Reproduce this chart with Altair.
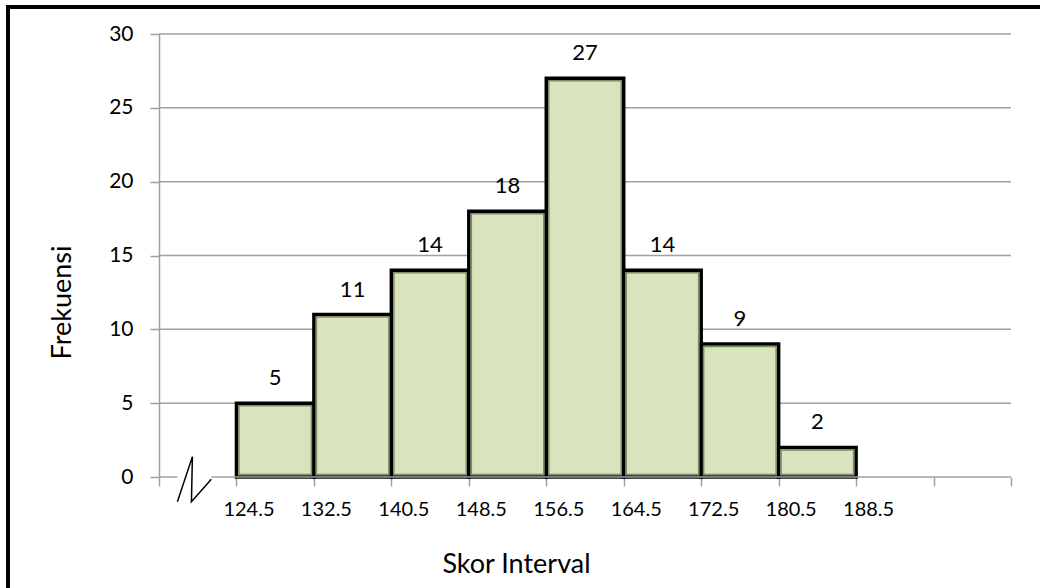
import altair as alt
import pandas as pd

# Class intervals (boundaries) and frequencies
lower = [124.5, 132.5, 140.5, 148.5, 156.5, 164.5, 172.5, 180.5]
upper = [132.5, 140.5, 148.5, 156.5, 164.5, 172.5, 180.5, 188.5]
freq = [5, 11, 14, 18, 27, 14, 9, 2]

# Axis ticks
x_ticks = [116.5, 124.5, 132.5, 140.5, 148.5, 156.5, 164.5, 172.5, 180.5, 188.5, 196.5, 204.5]
y_ticks = [0, 5, 10, 15, 20, 25, 30]
grid_vals = [5, 10, 15, 20, 25, 30]

# x-axis baseline, interrupted by the break symbol
axis_start = [116.5, 121.9]
axis_end = [118.4, 204.5]

# zigzag axis-break symbol (in data units)
break_x = [118.4, 119.95, 119.85, 121.9]
break_y = [-1.67, 1.38, -1.67, -0.16]

FONT = "Lato"
GRAY = "#a0a0a0"
X_DOMAIN = [116.5, 204.5]

bars_df = pd.DataFrame({"lower": lower, "upper": upper, "freq": freq})
bars_df["base"] = 0
bars_df["mid"] = (bars_df["lower"] + bars_df["upper"]) / 2

xscale = alt.Scale(domain=X_DOMAIN, nice=False, zero=False)
yscale = alt.Scale(domain=[0, 30], nice=False)

x_axis = alt.Axis(
    values=x_ticks,
    grid=False,
    domain=False,
    ticks=True,
    tickColor=GRAY,
    tickWidth=1.5,
    tickSize=9,
    labelExpr="datum.value > 120 && datum.value < 190 ? format(datum.value, '.1f') : ''",
    labelFont=FONT,
    labelFontSize=20,
    labelColor="black",
    labelOffset=12,
    labelPadding=13,
    labelFlush=False,
    labelOverlap=False,
    title="Skor Interval",
    titleFont=FONT,
    titleFontSize=27,
    titleFontWeight="normal",
    titleColor="black",
    titleX=357,
    titleY=95,
    titleAlign="center",
    titleBaseline="alphabetic",
)

y_axis = alt.Axis(
    values=y_ticks,
    grid=False,
    domain=True,
    domainColor=GRAY,
    domainWidth=1.5,
    tickColor=GRAY,
    tickWidth=1.5,
    tickSize=9,
    labelFont=FONT,
    labelFontSize=21,
    labelColor="black",
    labelPadding=17,
    title="Frekuensi",
    titleFont=FONT,
    titleFontSize=27,
    titleFontWeight="normal",
    titleColor="black",
    titleAngle=270,
    titleX=-89,
    titleY=268,
    titleAlign="center",
    titleBaseline="alphabetic",
)


def X(field):
    return alt.X(field, scale=xscale, axis=x_axis)


def Y(field):
    return alt.Y(field, scale=yscale, axis=y_axis)


grid = alt.Chart(pd.DataFrame({"v": grid_vals})).mark_rule(
    color=GRAY, strokeWidth=1.5
).encode(
    y=Y("v:Q"),
    x=alt.value(0),
    x2=alt.value(852),
)

bars = alt.Chart(bars_df).mark_rect(
    fill="#D7E4BD", stroke="black", strokeWidth=3.5
).encode(
    x=X("lower:Q"),
    x2="upper:Q",
    y=Y("freq:Q"),
    y2="base:Q",
)

inner = alt.Chart(bars_df).mark_rect(
    filled=False, stroke="#7d8b66", strokeWidth=1.5,
    xOffset=2.5, x2Offset=-2.5, yOffset=2.5, y2Offset=-2.5,
).encode(
    x=X("lower:Q"),
    x2="upper:Q",
    y=Y("freq:Q"),
    y2="base:Q",
)

labels = alt.Chart(bars_df).mark_text(
    font=FONT, fontSize=22, color="black", baseline="alphabetic", dy=-18
).encode(
    x=X("mid:Q"),
    y=Y("freq:Q"),
    text="freq:Q",
)

axis_df = pd.DataFrame({"s": axis_start, "e": axis_end, "y": [0, 0]})
axis_line = alt.Chart(axis_df).mark_rule(color=GRAY, strokeWidth=1.5).encode(
    x=X("s:Q"),
    x2="e:Q",
    y=Y("y:Q"),
)

break_df = pd.DataFrame({"bx": break_x, "by": break_y, "i": list(range(len(break_x)))})
break_mark = alt.Chart(break_df).mark_line(color="black", strokeWidth=1.5).encode(
    x=X("bx:Q"),
    y=Y("by:Q"),
    order="i:Q",
)

# outer frame lines (left and top edges)
one = pd.DataFrame({"k": [0]})
frame_left = alt.Chart(one).mark_rule(color="black", strokeWidth=4).encode(
    x=alt.value(-151), y=alt.value(-29), y2=alt.value(560)
)
frame_top = alt.Chart(one).mark_rule(color="black", strokeWidth=4).encode(
    x=alt.value(-153), x2=alt.value(885), y=alt.value(-27)
)

chart = alt.layer(
    grid, bars, inner, labels, axis_line, break_mark, frame_left, frame_top
).properties(
    width=852,
    height=443,
    autosize=alt.AutoSizeParams(type="none"),
    padding={"left": 159, "top": 34, "right": 29, "bottom": 111},
    background="white",
).configure_view(stroke=None)

chart.save("out.html", embed_options={"renderer": "svg", "actions": False})
